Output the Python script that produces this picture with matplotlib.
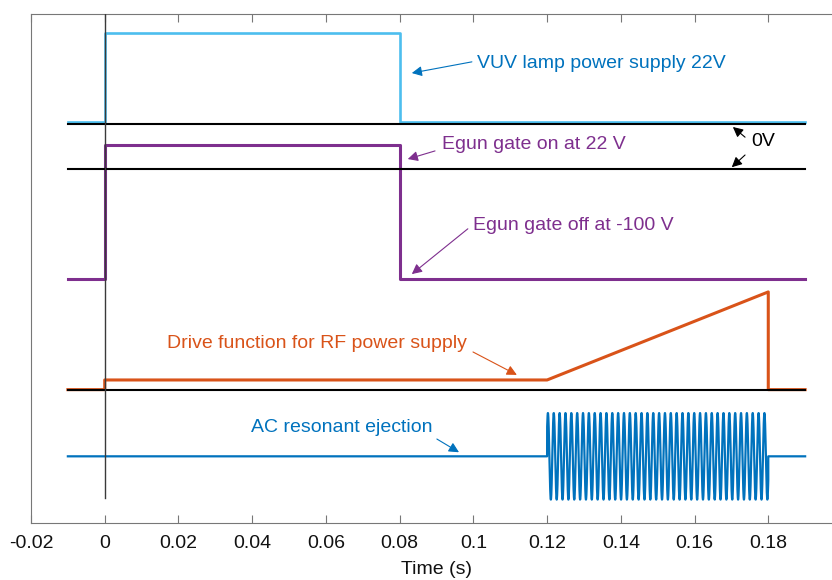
import matplotlib.pyplot as plt
import numpy as np

plt.rcParams['font.family'] = ['Liberation Sans', 'DejaVu Sans']

# trace breakpoints (time in s, level in arbitrary offset units)
t_vuv = [-0.01, 0.0, 0.0, 0.08, 0.08, 0.19]
y_vuv = [7.87, 7.87, 9.62, 9.62, 7.87, 7.87]

t_egun = [-0.01, 0.0, 0.0, 0.08, 0.08, 0.19]
y_egun = [4.79, 4.79, 7.43, 7.43, 4.79, 4.79]

t_drive = [-0.01, 0.0, 0.0, 0.12, 0.18, 0.18, 0.19]
y_drive = [2.62, 2.62, 2.81, 2.81, 4.54, 2.62, 2.62]

# zero-volt reference lines
zero_levels = [7.84, 6.95, 2.62]
t_span = [-0.01, 0.19]

# AC resonant ejection burst
ac_base = 1.31
ac_amp = 0.85
ac_freq = 630.0
ac_phase = 0.68
ac_start, ac_stop = 0.12, 0.18

xticks = [-0.02, 0, 0.02, 0.04, 0.06, 0.08, 0.1, 0.12, 0.14, 0.16, 0.18]
xtick_labels = ['-0.02', '0', '0.02', '0.04', '0.06', '0.08', '0.1', '0.12', '0.14', '0.16', '0.18']

c_vuv = '#4DBEEE'
c_egun = '#7E2F8E'
c_drive = '#D95319'
c_ac = '#0072BD'

fig = plt.figure(figsize=(8.32, 5.80), dpi=100)
ax = fig.add_axes([31 / 832, 57 / 580, 811 / 832, 509 / 580])

# AC trace: flat, burst, flat
tb = np.linspace(ac_start, ac_stop, 3000)
yb = ac_base + ac_amp * np.sin(2 * np.pi * ac_freq * (tb - ac_start) + ac_phase)
t_ac = np.concatenate([[-0.01, ac_start], tb, [ac_stop, 0.19]])
y_ac = np.concatenate([[ac_base, ac_base], yb, [ac_base, ac_base]])

ax.plot(t_vuv, y_vuv, color=c_vuv, lw=1.9, zorder=2)
ax.plot(t_egun, y_egun, color=c_egun, lw=2.2, zorder=2)
ax.plot(t_drive, y_drive, color=c_drive, lw=2.2, zorder=2)
ax.plot(t_ac, y_ac, color=c_ac, lw=1.6, zorder=2)

for lvl in zero_levels:
    ax.plot(t_span, [lvl, lvl], color='black', lw=1.5, zorder=3)

# vertical t=0 marker
ax.plot([0, 0], [0.49, 10], color='#3a3a3a', lw=1.0, zorder=4)

fs = 14
arrow = dict(arrowstyle='-|>', lw=0.8, mutation_scale=15, shrinkA=0, shrinkB=0)

ax.text(0.101, 9.02, 'VUV lamp power supply 22V', color=c_ac, fontsize=fs, va='center')
ax.annotate('', xy=(0.0833, 8.84), xytext=(0.0996, 9.06), arrowprops=dict(arrow, color=c_ac))

ax.text(0.0915, 7.43, 'Egun gate on at 22 V', color=c_egun, fontsize=fs, va='center')
ax.annotate('', xy=(0.0822, 7.15), xytext=(0.0896, 7.31), arrowprops=dict(arrow, color=c_egun))

ax.text(0.1753, 7.49, '0V', color='black', fontsize=fs, va='center')
ax.annotate('', xy=(0.1704, 7.78), xytext=(0.1737, 7.58), arrowprops=dict(arrow, color='black'))
ax.annotate('', xy=(0.1701, 6.99), xytext=(0.1737, 7.23), arrowprops=dict(arrow, color='black'))

ax.text(0.0999, 5.85, 'Egun gate off at -100 V', color=c_egun, fontsize=fs, va='center')
ax.annotate('', xy=(0.0833, 4.89), xytext=(0.0985, 5.78), arrowprops=dict(arrow, color=c_egun))

ax.text(0.0168, 3.52, 'Drive function for RF power supply', color=c_drive, fontsize=fs, va='center')
ax.annotate('', xy=(0.1118, 2.91), xytext=(0.0999, 3.36), arrowprops=dict(arrow, color=c_drive))

ax.text(0.0396, 1.87, 'AC resonant ejection', color=c_ac, fontsize=fs, va='center')
ax.annotate('', xy=(0.0961, 1.39), xytext=(0.0901, 1.65), arrowprops=dict(arrow, color=c_ac))

ax.set_xlim(-0.02, 0.2)
ax.set_ylim(0, 10)
ax.set_xticks(xticks)
ax.set_xticklabels(xtick_labels)
ax.set_yticks([])
ax.tick_params(axis='x', direction='in', top=True, length=6, width=0.8,
               color='#777777', labelsize=fs, pad=9, labelcolor='#111111')
for side in ['top', 'bottom', 'left', 'right']:
    ax.spines[side].set_color('#777777')
    ax.spines[side].set_linewidth(0.8)
ax.set_xlabel('Time (s)', fontsize=fs, labelpad=6, color='#111111')

fig.savefig('out.png', dpi=100)
